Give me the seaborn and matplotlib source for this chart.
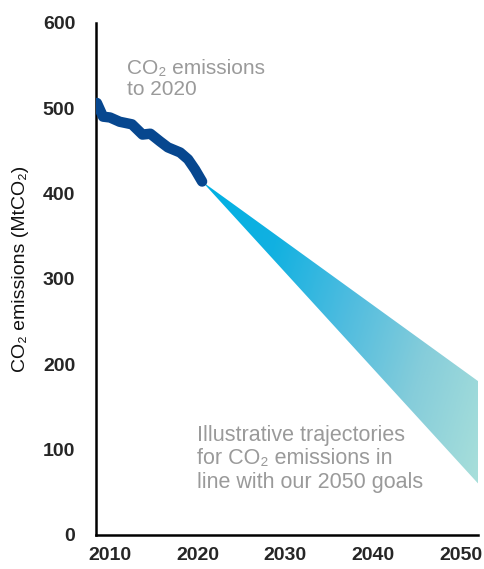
import numpy as np
import pandas as pd
import matplotlib
matplotlib.use("Agg")
import matplotlib.pyplot as plt
from matplotlib.colors import LinearSegmentedColormap
import seaborn as sns

# historical emissions (MtCO2)
hist_years = [2008.5, 2009.2, 2010.0, 2011.1, 2012.5, 2013.7, 2014.6, 2015.7, 2016.6, 2018.0, 2018.9, 2019.7, 2020.5]
hist_values = [506, 490, 489, 484, 481, 469, 470, 461, 454, 448, 440, 428, 414]

# illustrative trajectory fan
fan_years = [2020.5, 2052.0]
fan_upper = [414, 180]
fan_lower = [414, 60]

x_ticks = [2010, 2020, 2030, 2040, 2050]
y_ticks = [0, 100, 200, 300, 400, 500, 600]

sns.set_style("white")
plt.rcParams['font.family'] = ['Liberation Sans', 'DejaVu Sans']

fig = plt.figure(figsize=(4.85, 5.69), dpi=100)
ax = fig.add_axes([0.198, 0.06, 0.788, 0.9])

# gradient fan: draw image then clip to the filled polygon
poly = ax.fill_between(fan_years, fan_lower, fan_upper, color="none", lw=0)
cmap = LinearSegmentedColormap.from_list("fan", ["#00b0e3", "#12b1e1", "#4fbcdf", "#86cdda", "#a8dfda"])
gx, gy = np.meshgrid(np.linspace(0, 1, 300), np.linspace(0, 1, 300))
grad = 0.75 * gx + 0.25 * gy
img = ax.imshow(grad, cmap=cmap, aspect="auto", origin="upper",
                extent=[fan_years[0], fan_years[1], min(fan_lower), max(fan_upper)],
                zorder=1, interpolation="bilinear")
img.set_clip_path(poly.get_paths()[0], transform=ax.transData)

hist = pd.DataFrame({"year": hist_years, "value": hist_values})
sns.lineplot(data=hist, x="year", y="value", ax=ax, color="#07478f", lw=7.5,
             solid_capstyle="round", solid_joinstyle="round", zorder=3)

ax.set_xlim(2008.4, 2052)
ax.set_ylim(0, 600)
ax.set_xticks(x_ticks)
ax.set_yticks(y_ticks)
ax.tick_params(axis="y", length=0, pad=15, labelsize=14)
ax.tick_params(axis="x", length=0, pad=9, labelsize=14)
for lab in ax.get_xticklabels() + ax.get_yticklabels():
    lab.set_fontweight("bold")
ax.set_xlabel("")
ax.set_ylabel("CO₂ emissions (MtCO₂)", fontsize=14, color="#111111")
ax.yaxis.set_label_coords(-0.175, 0.52)

for side in ["top", "right"]:
    ax.spines[side].set_visible(False)
for side in ["left", "bottom"]:
    ax.spines[side].set_color("black")
    ax.spines[side].set_linewidth(1.8)

ax.text(0.08, 0.93, "CO₂ emissions\nto 2020", transform=ax.transAxes,
        fontsize=15, color="#9a9a9a", va="top", ha="left", linespacing=1.15)
ax.text(0.265, 0.215, "Illustrative trajectories\nfor CO₂ emissions in\nline with our 2050 goals",
        transform=ax.transAxes, fontsize=15.5, color="#9a9a9a", va="top", ha="left",
        linespacing=1.15)

fig.savefig("out.png", dpi=100)
